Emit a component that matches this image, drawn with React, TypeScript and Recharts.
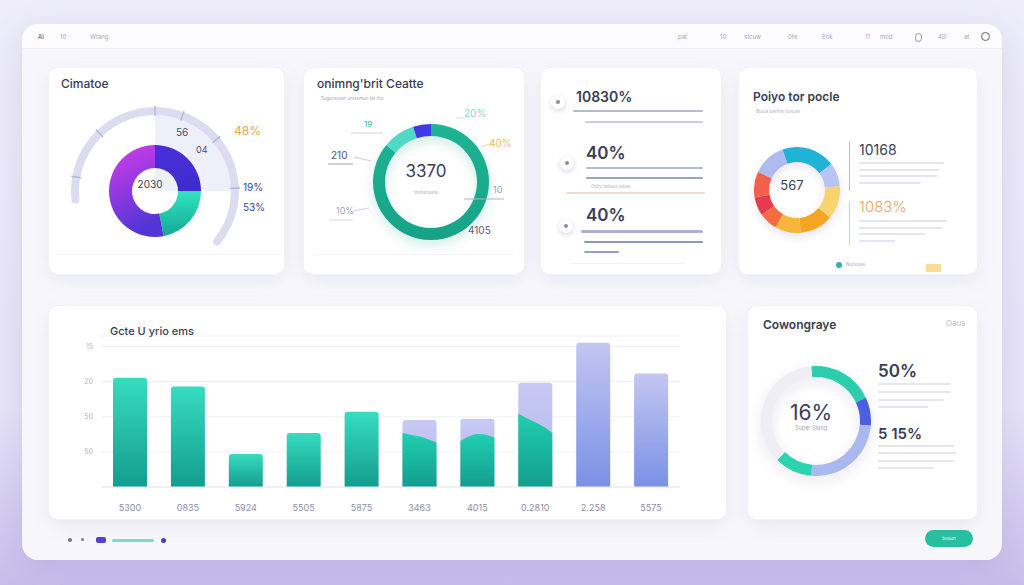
import React from 'react';
import { PieChart, Pie, Cell, BarChart, Bar, XAxis, YAxis, CartesianGrid } from 'recharts';

const FONT = 'Inter, "Noto Sans", sans-serif';

// ---- card 1: gauge + donut ----
const ringNames = ['Indigo', 'Teal', 'Violet'];
const ringValues = [25, 22, 53];
const ringFills = ['url(#ringIndigo)', 'url(#ringTeal)', 'url(#ringViolet)'];
const gaugeStart = 189;
const gaugeEnd = -42;
const gaugeTickAngles = [170, 134, 90, 70, 40, 2];

// ---- card 2: big green ring ----
const greenNames = ['Main', 'Light', 'Indigo'];
const greenValues = [86, 9, 5];
const greenColors = ['url(#greenMain)', '#4fd9c6', '#3f3be0'];

// ---- card 4: multi colour ring ----
const multiNames = ['Cyan', 'Periwinkle', 'Yellow', 'Orange', 'Amber', 'Coral', 'Red', 'Tomato', 'Lavender'];
const multiValues = [73, 32, 45, 45, 35, 25, 25, 35, 45];
const multiColors = ['#20b3d8', '#b7c3f1', '#f8d46e', '#f4a623', '#f8b53c', '#f36b40', '#e73a4c', '#f2604a', '#aebaf0'];

// ---- card 6: coverage ring ----
const coverNames = ['Teal', 'Indigo', 'Periwinkle', 'Teal 2', 'Rest'];
const coverValues = [70, 30, 90, 40, 130];
const coverColors = ['#2ccdad', '#4c5fe0', '#a9b8ee', '#2bd3b0', '#eeeef4'];

// ---- bar chart ----
const barCategories = ['5300', '0835', '5924', '5505', '5875', '3463', '4015', '0.2810', '2.258', '5575'];
const barValues = [3.11, 2.86, 0.94, 1.54, 2.14, 1.91, 1.94, 2.97, 4.11, 3.23];
const barKinds = ['teal', 'teal', 'teal', 'teal', 'teal', 'mix', 'mix', 'mix', 'blue', 'blue'];
const tealLeft = [0, 0, 0, 0, 0, 1.54, 1.31, 2.09, 0, 0];
const tealMid = [0, 0, 0, 0, 0, 1.45, 1.56, 1.85, 0, 0];
const tealRight = [0, 0, 0, 0, 0, 1.26, 1.41, 1.54, 0, 0];
const yTicks = [1, 2, 3, 4];
const leftTickLabels = ['50', '50', '20', '15'];
const rightTickLabels = ['15', '10', '5', '15'];

const ringData = ringNames.map((name, i) => ({ name, value: ringValues[i] }));
const greenData = greenNames.map((name, i) => ({ name, value: greenValues[i] }));
const multiData = multiNames.map((name, i) => ({ name, value: multiValues[i] }));
const coverData = coverNames.map((name, i) => ({ name, value: coverValues[i] }));
const barData = barCategories.map((name, i) => ({
  name,
  value: barValues[i],
  kind: barKinds[i],
  tl: tealLeft[i],
  tm: tealMid[i],
  tr: tealRight[i],
}));

// tick marks on the gauge: thin slices between transparent gaps
const gaugeTickData = (() => {
  const out: { value: number; tick: boolean }[] = [];
  let prev = gaugeStart;
  gaugeTickAngles.forEach((a) => {
    out.push({ value: prev - (a + 0.5), tick: false });
    out.push({ value: 1, tick: true });
    prev = a - 0.5;
  });
  out.push({ value: prev - gaugeEnd, tick: false });
  return out;
})();

const Txt = ({ x, y, size = 10, color = '#3b3e55', weight = 400, center = false, children }: any) => (
  <div
    style={{
      position: 'absolute',
      left: x,
      top: y,
      fontSize: size,
      color,
      fontWeight: weight,
      lineHeight: 1,
      whiteSpace: 'nowrap',
      transform: `translate(${center ? '-50%' : '0'}, -50%)`,
    }}
  >
    {children}
  </div>
);

const Rule = ({ x1, x2, y, h = 1, color = '#eef0f5' }: any) => (
  <div style={{ position: 'absolute', left: x1, top: y - h / 2, width: x2 - x1, height: h, background: color, borderRadius: h }} />
);

const Card = ({ x, y, w, h, children }: any) => (
  <div
    style={{
      position: 'absolute',
      left: x,
      top: y,
      width: w,
      height: h,
      background: '#ffffff',
      borderRadius: 10,
      boxShadow: '0 6px 18px rgba(110,110,170,0.10)',
      border: '1px solid #f1f1f7',
      boxSizing: 'border-box',
    }}
  >
    {children}
  </div>
);

const TextLines = ({ x, y, widths, gap = 6.5 }: any) => (
  <>
    {widths.map((w: number, i: number) => (
      <Rule key={i} x1={x} x2={x + w} y={y + i * gap} h={2} color="#e4e5ee" />
    ))}
  </>
);

function roundedTop(x: number, y: number, w: number, h: number, r: number) {
  return `M${x},${y + h} L${x},${y + r} Q${x},${y} ${x + r},${y} L${x + w - r},${y} Q${x + w},${y} ${x + w},${y + r} L${x + w},${y + h} Z`;
}

const BarShape = (props: any) => {
  const { x, y, width, height, payload } = props;
  if (!height || height <= 0) return null;
  const base = y + height;
  if (payload.kind === 'mix') {
    const ppu = height / payload.value;
    const yl = base - payload.tl * ppu;
    const ym = base - payload.tm * ppu;
    const yr = base - payload.tr * ppu;
    return (
      <g>
        <path d={roundedTop(x, y, width, height, 3)} fill="url(#lavBar)" />
        <path
          d={`M${x},${base} L${x},${yl} C${x + width * 0.4},${ym} ${x + width * 0.6},${ym} ${x + width},${yr} L${x + width},${base} Z`}
          fill="url(#tealMix)"
        />
      </g>
    );
  }
  return <path d={roundedTop(x, y, width, height, 3)} fill={payload.kind === 'blue' ? 'url(#blueBar)' : 'url(#tealBar)'} />;
};

export default function App() {
  return (
    <div
      style={{
        position: 'absolute',
        left: 0,
        top: 0,
        width: 1024,
        height: 585,
        overflow: 'hidden',
        fontFamily: FONT,
        background: 'linear-gradient(180deg, #eeedf9 0%, #e6e3f6 70%, #c7bdeb 100%)',
      }}
    >
      {/* outer panel */}
      <div
        style={{
          position: 'absolute',
          left: 22,
          top: 24,
          width: 980,
          height: 536,
          background: '#f7f7fb',
          borderRadius: 16,
          boxShadow: '0 8px 30px rgba(120,110,190,0.18)',
          overflow: 'hidden',
        }}
      >
        <div style={{ position: 'absolute', left: 0, top: 0, width: 980, height: 24, background: '#fcfcfe', borderBottom: '1px solid #efeff5' }} />
        {[
          ['AI', 16], ['10', 38], ['Wtang', 68],
          ['pat', 656], ['10', 698], ['stcuw', 722], ['0te', 766], ['Eok', 800], ['11', 843], ['mod', 858], ['4D', 916], ['at', 942],
        ].map(([t, x]: any, i) => (
          <Txt key={i} x={x} y={13} size={6} color={i === 0 ? '#444' : '#a4a6b6'}>{t}</Txt>
        ))}
        <div style={{ position: 'absolute', left: 893, top: 9, width: 5, height: 7, borderRadius: 4, border: '1px solid #999' }} />
        <div style={{ position: 'absolute', left: 959, top: 8, width: 7, height: 7, borderRadius: 6, border: '1.5px solid #666' }} />
      </div>

      {/* card 1 */}
      <Card x={48} y={67} w={237} h={208}>
        <div style={{ position: 'absolute', left: 0, top: 0 }}>
          <PieChart width={237} height={208}>
            <defs>
              <linearGradient id="ringViolet" x1="0" y1="0" x2="0.3" y2="1">
                <stop offset="0%" stopColor="#d63de9" />
                <stop offset="100%" stopColor="#5335d6" />
              </linearGradient>
              <linearGradient id="ringIndigo" x1="0" y1="0" x2="0" y2="1">
                <stop offset="0%" stopColor="#4b2fd8" />
                <stop offset="100%" stopColor="#3b2dcb" />
              </linearGradient>
              <linearGradient id="ringTeal" x1="0" y1="0" x2="0" y2="1">
                <stop offset="0%" stopColor="#33e4be" />
                <stop offset="100%" stopColor="#14a896" />
              </linearGradient>
            </defs>
            <Pie data={[{ value: 1 }]} dataKey="value" cx={101} cy={118} startAngle={90} endAngle={0} innerRadius={0} outerRadius={78} stroke="none" fill="#efeff9" isAnimationActive={false} />
            <Pie data={[{ value: 1 }]} dataKey="value" cx={101} cy={118} startAngle={gaugeStart} endAngle={gaugeEnd} innerRadius={76} outerRadius={84} cornerRadius={4} stroke="none" fill="#dcdcf1" isAnimationActive={false} />
            <Pie data={gaugeTickData} dataKey="value" cx={101} cy={118} startAngle={gaugeStart} endAngle={gaugeEnd} innerRadius={75} outerRadius={85} stroke="none" isAnimationActive={false}>
              {gaugeTickData.map((d, i) => (
                <Cell key={i} fill={d.tick ? '#b4b4d8' : 'transparent'} />
              ))}
            </Pie>
            <Pie data={ringData} dataKey="value" cx={101} cy={118} startAngle={90} endAngle={-270} innerRadius={23} outerRadius={46} stroke="none" isAnimationActive={false}>
              {ringData.map((d, i) => (
                <Cell key={d.name} fill={ringFills[i]} />
              ))}
            </Pie>
          </PieChart>
        </div>
        <Txt x={12} y={16} size={12} weight={500} color="#3a3c50">Cimatoe</Txt>
        <Txt x={127} y={64} size={10} color="#4a4d72">56</Txt>
        <Txt x={147} y={81} size={9} color="#4a4d72">04</Txt>
        <Txt x={185} y={63} size={12} color="#f0a24a">48%</Txt>
        <Txt x={194} y={119} size={10} color="#3d3f8a">19%</Txt>
        <Txt x={194} y={139} size={10} color="#3d3f8a">53%</Txt>
        <Txt x={101} y={116} size={10} center color="#3a3c50">2030</Txt>
        <Rule x1={5} x2={232} y={186} color="#f1f1f6" />
      </Card>

      {/* card 2 */}
      <Card x={303} y={67} w={222} h={208}>
        <div style={{ position: 'absolute', left: 0, top: 0, filter: 'drop-shadow(0 5px 6px rgba(30,170,140,0.22))' }}>
          <PieChart width={222} height={208}>
            <defs>
              <linearGradient id="greenMain" x1="0" y1="0" x2="0" y2="1">
                <stop offset="0%" stopColor="#1db493" />
                <stop offset="100%" stopColor="#17a286" />
              </linearGradient>
            </defs>
            <Pie data={greenData} dataKey="value" cx={122} cy={109} startAngle={90} endAngle={-270} innerRadius={46} outerRadius={58} stroke="none" isAnimationActive={false}>
              {greenData.map((d, i) => (
                <Cell key={d.name} fill={greenColors[i]} />
              ))}
            </Pie>
          </PieChart>
        </div>
        <svg width={222} height={208} style={{ position: 'absolute', left: 0, top: 0 }}>
          <line x1={47} y1={65} x2={79} y2={65} stroke="#cfd2e4" />
          <line x1={152} y1={50} x2={160} y2={50} stroke="#bfe5e0" />
          <line x1={177} y1={79} x2={185} y2={76} stroke="#f5d7a8" />
          <line x1={24} y1={96} x2={49} y2={96} stroke="#9ca0bb" />
          <line x1={50} y1={89} x2={67} y2={93} stroke="#c9cce0" />
          <line x1={160} y1={131} x2={200} y2={131} stroke="#aeb2c7" />
          <line x1={49} y1={143} x2={65} y2={140} stroke="#cfd2e4" />
          <line x1={25} y1={152} x2={49} y2={152} stroke="#d6d8e6" />
        </svg>
        <Txt x={13} y={16} size={12} weight={500} color="#3a3c50">onimng'brit Ceatte</Txt>
        <Txt x={17} y={31} size={4.5} color="#a3a6ba">Sugensnaer antseman fat tho</Txt>
        <Txt x={60} y={56} size={8} color="#2bb8a0">19</Txt>
        <Txt x={160} y={45} size={10} color="#86d4cc">20%</Txt>
        <Txt x={185} y={75} size={10} color="#f2b860">40%</Txt>
        <Txt x={27} y={87} size={10} color="#505370">210</Txt>
        <Txt x={189} y={121} size={9} color="#9a9db0">10</Txt>
        <Txt x={32} y={142} size={9} color="#a0a3b5">10%</Txt>
        <Txt x={164} y={162} size={10} color="#5a5d78">4105</Txt>
        <Txt x={122} y={103} size={17} center color="#3a3d55">3370</Txt>
        <Txt x={122} y={125} size={4.5} center color="#a3a6ba">tnnhersone</Txt>
        <Rule x1={10} x2={210} y={186} color="#f1f1f6" />
      </Card>

      {/* card 3 */}
      <Card x={540} y={67} w={182} h={208}>
        {[[17, 34], [26, 95], [25, 158]].map(([cx, cy], i) => (
          <div
            key={i}
            style={{
              position: 'absolute',
              left: cx - 7,
              top: cy - 7,
              width: 14,
              height: 14,
              borderRadius: 7,
              background: '#fff',
              boxShadow: '0 2px 5px rgba(100,100,150,0.25)',
            }}
          >
            <div style={{ position: 'absolute', left: 5, top: 5, width: 4, height: 4, borderRadius: 2, background: '#8a8ea8' }} />
          </div>
        ))}
        <Txt x={35} y={29} size={14} weight={600} color="#3a3d55">10830%</Txt>
        <Rule x1={32} x2={162} y={43} h={2} color="#b7bbd2" />
        <Rule x1={44} x2={162} y={54} h={2} color="#cacde0" />
        <Txt x={45} y={85} size={17} weight={600} color="#3a3d55">40%</Txt>
        <Rule x1={45} x2={162} y={100} h={2} color="#b7bbd2" />
        <Rule x1={45} x2={162} y={110} h={2} color="#9ea4c0" />
        <Txt x={50} y={119} size={4.5} color="#a7aabd">Oeltc tatuou sotos</Txt>
        <Rule x1={25} x2={164} y={125} h={1.5} color="#ecdcd4" />
        <Txt x={45} y={147} size={17} weight={600} color="#3a3d55">40%</Txt>
        <Rule x1={40} x2={162} y={163} h={3} color="#aab1d8" />
        <Rule x1={43} x2={162} y={174} h={2} color="#8f96b8" />
        <Rule x1={43} x2={78} y={184} h={2} color="#9aa0c0" />
        <Rule x1={30} x2={145} y={195} h={1} color="#f0f0f5" />
      </Card>

      {/* card 4 */}
      <Card x={738} y={67} w={240} h={208}>
        <div style={{ position: 'absolute', left: 0, top: 0, filter: 'drop-shadow(0 4px 5px rgba(120,120,160,0.18))' }}>
          <PieChart width={110} height={208}>
            <Pie data={multiData} dataKey="value" cx={53} cy={117} startAngle={110} endAngle={-250} innerRadius={28} outerRadius={43} stroke="none" isAnimationActive={false}>
              {multiData.map((d, i) => (
                <Cell key={d.name} fill={multiColors[i]} />
              ))}
            </Pie>
          </PieChart>
        </div>
        <Txt x={14} y={29} size={12} weight={600} color="#3a3c50">Poiyo tor pocle</Txt>
        <Txt x={17} y={44} size={4.5} color="#a3a6ba">Bocta earlrsn toncas</Txt>
        <Txt x={53} y={117} size={13} center color="#3a3d55">567</Txt>
        <div style={{ position: 'absolute', left: 110, top: 73, width: 1, height: 50, background: '#c9bcbc' }} />
        <div style={{ position: 'absolute', left: 110, top: 133, width: 1, height: 44, background: '#f2c8a0' }} />
        <Txt x={120} y={82} size={14} color="#3a3d55">10168</Txt>
        <TextLines x={120} y={95} widths={[85, 80, 78, 62]} />
        <Txt x={120} y={138} size={15} weight={300} color="#f0a060">1083%</Txt>
        <TextLines x={120} y={153} widths={[88, 84, 66, 36]} />
        <div style={{ position: 'absolute', left: 97, top: 194, width: 6, height: 6, borderRadius: 3, background: '#2bb89a' }} />
        <Txt x={107} y={197} size={4.5} color="#a3a6ba">Nonouss</Txt>
        <div style={{ position: 'absolute', left: 187, top: 196, width: 15, height: 8, background: '#f7dc9a', borderRadius: 1 }} />
      </Card>

      {/* card 5: bar chart */}
      <Card x={48} y={305} w={679} h={215}>
        <div style={{ position: 'absolute', left: 0, top: 0 }}>
          <BarChart width={679} height={215} data={barData} margin={{ top: 30, right: 18, bottom: 4, left: 12 }}>
            <defs>
              <linearGradient id="tealBar" x1="0" y1="0" x2="0" y2="1">
                <stop offset="0%" stopColor="#38dcbf" />
                <stop offset="100%" stopColor="#139d8e" />
              </linearGradient>
              <linearGradient id="tealMix" x1="0" y1="0" x2="0" y2="1">
                <stop offset="0%" stopColor="#22cfae" />
                <stop offset="100%" stopColor="#139d8e" />
              </linearGradient>
              <linearGradient id="blueBar" x1="0" y1="0" x2="0" y2="1">
                <stop offset="0%" stopColor="#c4c6f2" />
                <stop offset="100%" stopColor="#7a91e6" />
              </linearGradient>
              <linearGradient id="lavBar" x1="0" y1="0" x2="0" y2="1">
                <stop offset="0%" stopColor="#c8c9f3" />
                <stop offset="100%" stopColor="#b0b6ee" />
              </linearGradient>
            </defs>
            <CartesianGrid vertical={false} stroke="#eff0f6" yAxisId="left" />
            <XAxis
              dataKey="name"
              axisLine={{ stroke: '#e8e9f1' }}
              tickLine={false}
              tickMargin={12}
              height={30}
              tick={{ fontSize: 9, fill: '#8a8fa8' }}
              interval={0}
            />
            <YAxis
              yAxisId="left"
              domain={[0, 4.3]}
              ticks={yTicks}
              width={40}
              axisLine={false}
              tickLine={false}
              tick={{ fontSize: 7, fill: '#b3b6c6' }}
              tickFormatter={(v: number) => leftTickLabels[yTicks.indexOf(v)]}
            />
            <YAxis
              yAxisId="right"
              orientation="right"
              domain={[0, 4.3]}
              ticks={yTicks}
              width={30}
              axisLine={false}
              tickLine={false}
              tick={{ fontSize: 7, fill: '#b3b6c6' }}
              tickFormatter={(v: number) => rightTickLabels[yTicks.indexOf(v)]}
            />
            <Bar yAxisId="left" dataKey="value" barSize={34} shape={(p: any) => <BarShape {...p} />} isAnimationActive={false} />
          </BarChart>
        </div>
        <Txt x={61} y={25} size={11} weight={500} color="#3a3c50">Gcte U yrio ems</Txt>
      </Card>

      {/* card 6 */}
      <Card x={747} y={305} w={231} h={215}>
        <div style={{ position: 'absolute', left: 0, top: 0, filter: 'drop-shadow(0 5px 7px rgba(120,120,170,0.18))' }}>
          <PieChart width={130} height={215}>
            <Pie data={coverData} dataKey="value" cx={63} cy={110} startAngle={95} endAngle={-265} innerRadius={44} outerRadius={55} stroke="none" isAnimationActive={false}>
              {coverData.map((d, i) => (
                <Cell key={d.name} fill={coverColors[i]} />
              ))}
            </Pie>
          </PieChart>
        </div>
        <Txt x={15} y={19} size={12} weight={600} color="#3a3c50">Cowongraye</Txt>
        <Txt x={198} y={17} size={8} color="#b8bac8">Oaus</Txt>
        <Txt x={63} y={106} size={21} center color="#3a3d55">16%</Txt>
        <Txt x={63} y={123} size={5.5} center color="#a3a6ba">Super Stang</Txt>
        <Txt x={130} y={65} size={17} weight={600} color="#3a3d55">50%</Txt>
        <TextLines x={130} y={78} widths={[73, 73, 66, 50]} gap={7.8} />
        <Txt x={130} y={127} size={15} weight={600} color="#3a3d55">5 15%</Txt>
        <TextLines x={130} y={140} widths={[76, 78, 76, 56]} gap={7.4} />
      </Card>

      {/* button */}
      <div
        style={{
          position: 'absolute',
          left: 925,
          top: 530,
          width: 48,
          height: 17,
          borderRadius: 9,
          background: '#27bf9f',
          color: '#e8fff8',
          fontSize: 5,
          lineHeight: '17px',
          textAlign: 'center',
        }}
      >
        tooun
      </div>

      {/* pager */}
      <div style={{ position: 'absolute', left: 68, top: 538, width: 4, height: 4, borderRadius: 2, background: '#6b6e92' }} />
      <div style={{ position: 'absolute', left: 81, top: 538, width: 3, height: 3, borderRadius: 2, background: '#7a7d98' }} />
      <div style={{ position: 'absolute', left: 96, top: 537, width: 10, height: 6, borderRadius: 2, background: '#5740cf' }} />
      <div style={{ position: 'absolute', left: 112, top: 539, width: 42, height: 3, borderRadius: 2, background: '#7fd8cc' }} />
      <div style={{ position: 'absolute', left: 161, top: 538, width: 5, height: 5, borderRadius: 3, background: '#4a3fb8' }} />
    </div>
  );
}
